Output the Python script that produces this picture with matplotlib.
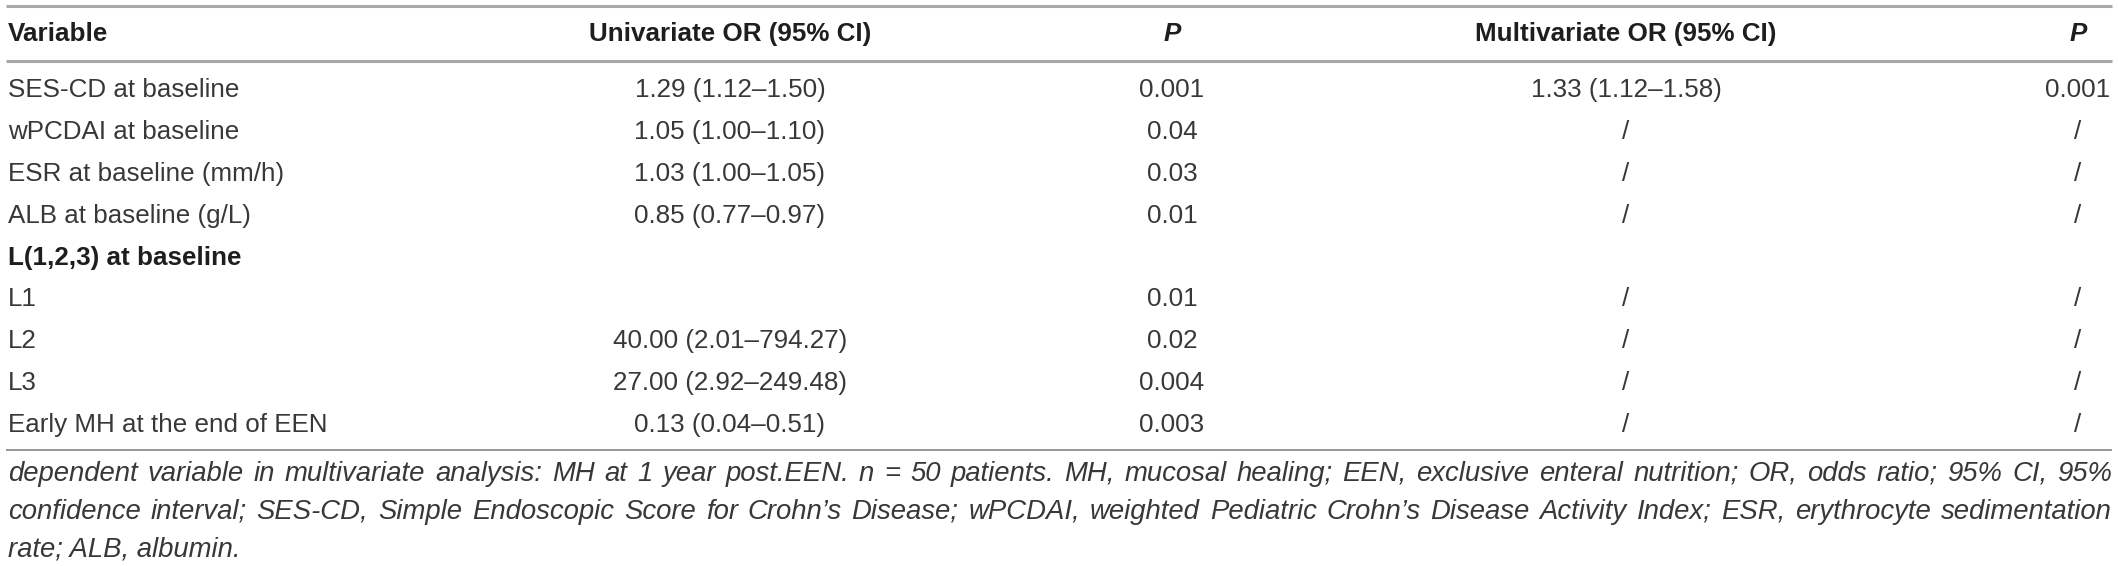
import matplotlib
matplotlib.use('Agg')
import matplotlib.pyplot as plt

# table content
columns = ['Variable', 'Univariate OR (95% CI)', 'P', 'Multivariate OR (95% CI)', 'P']
variables = ['SES-CD at baseline', 'wPCDAI at baseline', 'ESR at baseline (mm/h)',
             'ALB at baseline (g/L)', 'L(1,2,3) at baseline', 'L1', 'L2', 'L3',
             'Early MH at the end of EEN']
uni_or = ['1.29 (1.12–1.50)', '1.05 (1.00–1.10)', '1.03 (1.00–1.05)', '0.85 (0.77–0.97)',
          '', '', '40.00 (2.01–794.27)', '27.00 (2.92–249.48)', '0.13 (0.04–0.51)']
uni_p = ['0.001', '0.04', '0.03', '0.01', '', '0.01', '0.02', '0.004', '0.003']
multi_or = ['1.33 (1.12–1.58)', '/', '/', '/', '', '/', '/', '/', '/']
multi_p = ['0.001', '/', '/', '/', '', '/', '/', '/', '/']
group_rows = ['L(1,2,3) at baseline']
footnote = [
    'dependent variable in multivariate analysis: MH at 1 year post.EEN. n = 50 patients. MH, mucosal healing; '
    'EEN, exclusive enteral nutrition; OR, odds ratio; 95% CI, 95%',
    'confidence interval; SES-CD, Simple Endoscopic Score for Crohn’s Disease; wPCDAI, weighted Pediatric '
    'Crohn’s Disease Activity Index; ESR, erythrocyte sedimentation',
    'rate; ALB, albumin.',
]

W, H = 2118, 566
FONT = ['Liberation Sans', 'Arial', 'DejaVu Sans']
FS = 18.7
FS_FOOT = 19.8
HEAD_C = '#1e1e1e'
BODY_C = '#383838'

fig = plt.figure(figsize=(W / 100, H / 100), dpi=100)
ax = fig.add_axes([0, 0, 1, 1])
ax.set_xlim(0, W)
ax.set_ylim(H, 0)
ax.axis('off')

col_x = [8, 730, 1172, 1626, 2078]
col_ha = ['left', 'center', 'center', 'center', 'center']
x0, x1 = 6, 2112

# rules
ax.plot([x0, x1], [6, 6], color='#a8a8a8', lw=2.2, solid_capstyle='butt')
ax.plot([x0, x1], [61, 61], color='#a8a8a8', lw=2.2, solid_capstyle='butt')

# header
for i, c in enumerate(columns):
    style = 'italic' if c == 'P' else 'normal'
    ax.text(col_x[i], 32 + 9, c, ha=col_ha[i], va='baseline', fontsize=FS,
            fontweight='bold', fontstyle=style, family=FONT, color=HEAD_C)

# body
row_y0, row_h = 88, 41.9
for r in range(len(variables)):
    y = row_y0 + r * row_h + 9
    cells = [variables[r], uni_or[r], uni_p[r], multi_or[r], multi_p[r]]
    for i, val in enumerate(cells):
        if not val:
            continue
        bold = i == 0 and val in group_rows
        ax.text(col_x[i], y, val, ha=col_ha[i], va='baseline', fontsize=FS,
                fontweight='bold' if bold else 'normal', family=FONT,
                color=HEAD_C if bold else BODY_C)

y_bottom = 450
ax.plot([x0, x1], [y_bottom, y_bottom], color='#7a7a7a', lw=1.1, solid_capstyle='butt')

# footnote, justified like the source except for the last line
fig.canvas.draw()
renderer = fig.canvas.get_renderer()
px_per_unit = fig.bbox.width / W
foot_y = [474, 512, 549]
for k, line in enumerate(footnote):
    yb = foot_y[k] + 7
    words = line.split(' ')
    if k == len(footnote) - 1:
        ax.text(8, yb, line, ha='left', va='baseline', fontsize=FS_FOOT,
                fontstyle='italic', family=FONT, color=BODY_C)
        continue
    items = []
    for wd in words:
        t = ax.text(0, yb, wd, ha='left', va='baseline', fontsize=FS_FOOT,
                    fontstyle='italic', family=FONT, color=BODY_C)
        items.append((t, t.get_window_extent(renderer).width / px_per_unit))
    total = sum(w for _, w in items)
    gap = (x1 - 8 - total) / (len(items) - 1)
    x = 8
    for t, w in items:
        t.set_x(x)
        x += w + gap

fig.savefig('out.png', dpi=100)
